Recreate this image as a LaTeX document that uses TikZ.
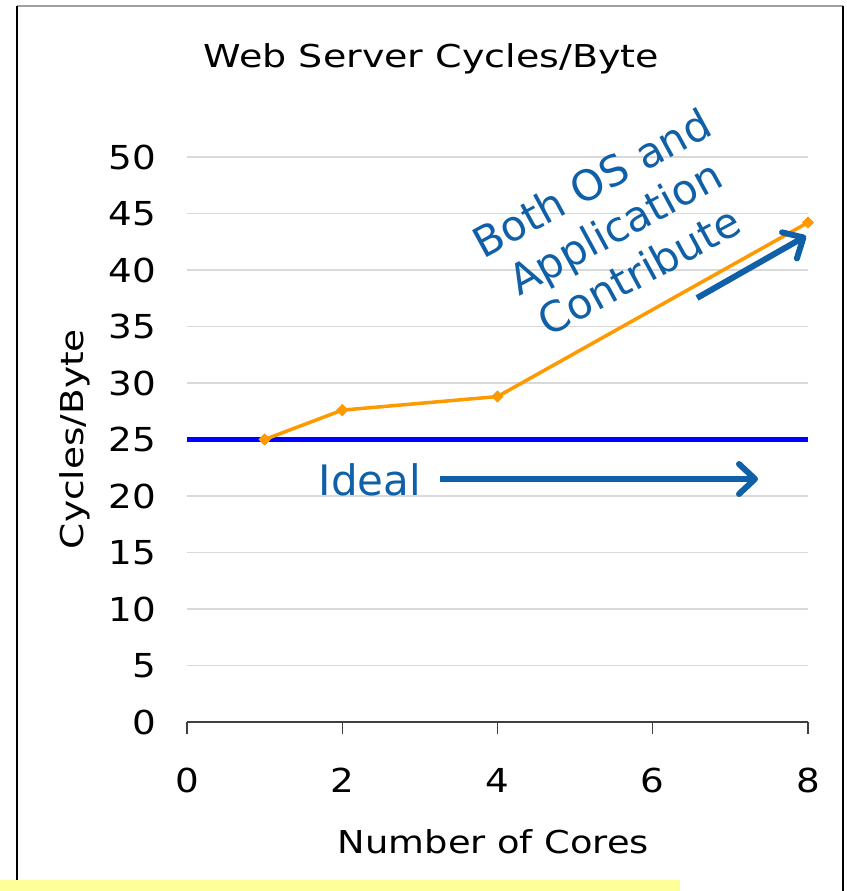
\documentclass[tikz,border=0pt]{standalone}
\usepackage{fontspec}
\setmainfont{DejaVu Sans}
\usepackage{graphicx}
\usetikzlibrary{arrows.meta,shapes.geometric}

\definecolor{annblue}{RGB}{16,96,168}
\definecolor{serorange}{RGB}{255,153,0}
\definecolor{gridgray}{RGB}{217,217,217}
\definecolor{idealblue}{RGB}{0,0,255}
\definecolor{hilite}{RGB}{255,255,153}
\definecolor{framegray}{RGB}{160,160,160}

\tikzset{
  gridline/.style={draw=gridgray, line width=1.5pt},
  axisline/.style={draw=black!75, line width=1.2pt},
  ticklab/.style={inner sep=0pt, font=\fontsize{33}{40}\selectfont},
  axtitle/.style={inner sep=0pt, font=\fontsize{31.5}{38}\selectfont},
  annot/.style={inner sep=0pt, text=annblue, font=\fontsize{42}{50}\selectfont},
  annarrow/.style={draw=annblue, line width=6pt,
    -{Straight Barb[round,length=16pt,width=30pt]}},
  series/.style={draw=serorange, line width=3.5pt, line join=round},
  marker/.style={diamond, fill=serorange, inner sep=0pt, minimum size=12pt},
  idealline/.style={draw=idealblue, line width=4.2pt},
}

\begin{document}
\begin{tikzpicture}[x=1pt, y=-1pt]
\useasboundingbox (0,0) rectangle (846,891);
\fill[white] (0,0) rectangle (846,891);

% outer frame and highlight strip
\coordinate (ftl) at (17,6);
\coordinate (ftr) at (843,6);
\coordinate (fbl) at (17,880);
\coordinate (fbr) at (843,891);
\draw[framegray, line width=1.2pt] (ftl) -- (ftr);
\draw[black, line width=1.5pt] (ftl) -- (fbl);
\draw[black, line width=1.5pt] (ftr) -- (fbr);
\fill[hilite] (0,880) rectangle (680,891);

% chart title
\node[axtitle, anchor=base] (title) at (431.5,67)
  {\resizebox{455pt}{\height}{Web Server Cycles/Byte}};

% plot area: x in cores, y in cycles/byte
\begin{scope}[shift={(187,722)}, x=77.625pt, y=11.3pt]
  \foreach \v in {5,10,...,50}
    \draw[gridline] (0,\v) -- (8,\v);
  \foreach \v in {0,5,...,50}
    \node[ticklab, anchor=east] (yl\v) at ([xshift=-31pt]0,\v)
      {\scalebox{1.13}[1]{\v}};

  \coordinate (ax0) at (0,0);
  \coordinate (ax8) at (8,0);
  \draw[axisline] (ax0) -- (ax8);
  \foreach \t in {0,2,4,6,8} {
    \coordinate (tk\t) at (\t,0);
    \draw[axisline] (tk\t) -- ++(0pt,-12pt);
    \node[ticklab] (xl\t) at ([yshift=-58pt]\t,0) {\scalebox{1.13}[1]{\t}};
  }

  % ideal scaling
  \coordinate (i0) at (0,25);
  \coordinate (i8) at (8,25);
  \draw[idealline] (i0) -- (i8);

  % measured series
  \node[marker] (m1) at (1,25) {};
  \node[marker] (m2) at (2,27.6) {};
  \node[marker] (m4) at (4,28.8) {};
  \node[marker] (m8) at (8,44.2) {};
  \draw[series] (m1.center) -- (m2.center) -- (m4.center) -- (m8.center);
  \foreach \m in {m1,m2,m4,m8}
    \node[marker] at (\m) {};
\end{scope}

% axis titles
\node[axtitle, anchor=base, rotate=90] (ytitle) at (83,439)
  {\resizebox{220pt}{\height}{Cycles/Byte}};
\node[axtitle, anchor=base] (xtitle) at (493.5,853)
  {\resizebox{311pt}{\height}{Number of Cores}};

% annotations
\node[annot, anchor=base] (ideal) at (370,495) {Ideal};
\coordinate (ia) at (440,479);
\coordinate (ib) at (758,479);
\draw[annarrow] (ia) -- (ib);

\node[annot, rotate=28.5] (both) at (618,232)
  {\begin{tabular}{@{}c@{}}Both OS and\\ Application\\ Contribute\end{tabular}};
\coordinate (da) at (697,298);
\coordinate (db) at (806,236);
\draw[annarrow] (da) -- (db);
\end{tikzpicture}
\end{document}
